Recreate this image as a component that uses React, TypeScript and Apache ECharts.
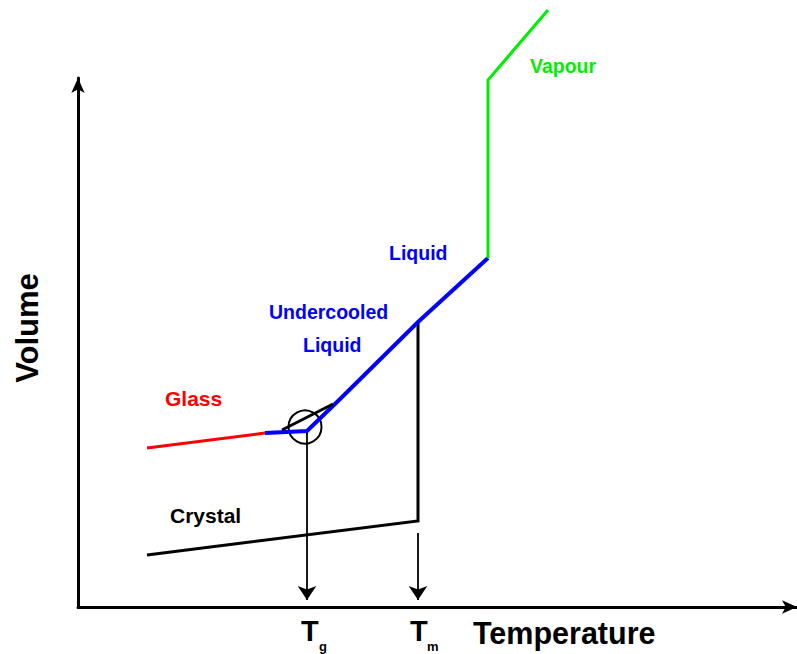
import React, { useEffect, useRef } from "react";
import * as echarts from "echarts";

// Schematic volume–temperature diagram (arbitrary units)
const crystal: number[][] = [[69, 52], [340, 86], [340, 285]];
const glass: number[][] = [[69, 159], [187, 174]];
const undercooledLiquid: number[][] = [[187, 174], [229, 176], [259, 205], [340, 285], [410, 349]];
const transition: number[][] = [[204, 177], [255, 203]];
const vapour: number[][] = [[410, 349], [410, 527], [470, 597]];
const tgArrow: number[][] = [[229, 175], [229, 7]];
const tmArrow: number[][] = [[340, 74], [340, 7]];
const tgCircle: number[] = [227, 180];

const labelTexts = ["Vapour", "Liquid", "Undercooled", "Liquid", "Glass", "Crystal"];
const labelPos: number[][] = [[452, 541], [311, 354], [191, 295], [225, 262], [87, 209], [92, 92]];
const labelColors = ["#00ee00", "#0000ff", "#0000ff", "#0000ff", "#ff0000", "#000000"];
const labelSizes = [19.5, 19.5, 19.5, 19.5, 21, 21];

const X_MAX = 719;
const Y_MAX = 529;

export default function App() {
  const ref = useRef<HTMLDivElement>(null);
  useEffect(() => {
    if (!ref.current) return;
    const chart = echarts.init(ref.current, null, { renderer: "svg" });
    const font = "'Liberation Sans', Arial, sans-serif";
    const lineSeries = (data: number[][], color: string, width: number) => ({
      type: "line",
      data,
      symbol: "none",
      clip: false,
      silent: true,
      lineStyle: { color, width, cap: "butt", join: "miter" },
    });
    const txt = (pos: number[], text: string, color: string, size: number, extra: any = {}) => ({
      value: pos,
      label: {
        show: true,
        formatter: text,
        position: "inside",
        align: "left",
        verticalAlign: "middle",
        color,
        opacity: 1,
        fontSize: size,
        fontWeight: "bold",
        fontFamily: font,
        ...extra,
      },
    });
    const labelData = labelTexts.map((t, i) => txt(labelPos[i], t, labelColors[i], labelSizes[i]));
    labelData.push(txt([223, -24], "T", "#000", 29));
    labelData.push(txt([241, -39], "g", "#000", 13));
    labelData.push(txt([332, -24], "T", "#000", 29));
    labelData.push(txt([349, -39], "m", "#000", 13));
    labelData.push(txt([395, -26], "Temperature", "#000", 30.5));
    labelData.push(txt([-51, 279], "Volume", "#000", 31, { rotate: 90, align: "center" }));

    chart.setOption({
      animation: false,
      backgroundColor: "#ffffff",
      grid: { left: 78, right: 0, top: 78, bottom: 47 },
      xAxis: {
        type: "value",
        min: 0,
        max: X_MAX,
        axisLine: {
          show: true,
          lineStyle: { color: "#000", width: 3 },
          symbol: ["none", "arrow"],
          symbolSize: [10, 15],
        },
        axisTick: { show: false },
        axisLabel: { show: false },
        splitLine: { show: false },
      },
      yAxis: {
        type: "value",
        min: 0,
        max: Y_MAX,
        axisLine: {
          show: true,
          lineStyle: { color: "#000", width: 3 },
          symbol: ["none", "arrow"],
          symbolSize: [10, 15],
        },
        axisTick: { show: false },
        axisLabel: { show: false },
        splitLine: { show: false },
      },
      series: [
        lineSeries(crystal, "#000000", 3),
        lineSeries(glass, "#ff0000", 3),
        lineSeries(undercooledLiquid, "#0000ff", 4),
        lineSeries(transition, "#000000", 3),
        lineSeries(vapour, "#00ee00", 3),
        {
          type: "lines",
          coordinateSystem: "cartesian2d",
          silent: true,
          symbol: ["none", "arrow"],
          symbolSize: [9, 14],
          lineStyle: { color: "#000", width: 1.8, opacity: 1 },
          data: [{ coords: tgArrow }, { coords: tmArrow }],
        },
        {
          type: "scatter",
          silent: true,
          clip: false,
          symbol: "circle",
          symbolSize: 33,
          itemStyle: { color: "rgba(0,0,0,0)", borderColor: "#000", borderWidth: 2, opacity: 1 },
          data: [tgCircle],
        },
        {
          type: "scatter",
          silent: true,
          clip: false,
          symbol: "circle",
          symbolSize: 1,
          itemStyle: { color: "rgba(255,255,255,0)", opacity: 1 },
          data: labelData,
        },
      ],
    });
    return () => chart.dispose();
  }, []);
  return <div ref={ref} style={{ width: 797, height: 654, position: "absolute", left: 0, top: 0 }} />;
}
